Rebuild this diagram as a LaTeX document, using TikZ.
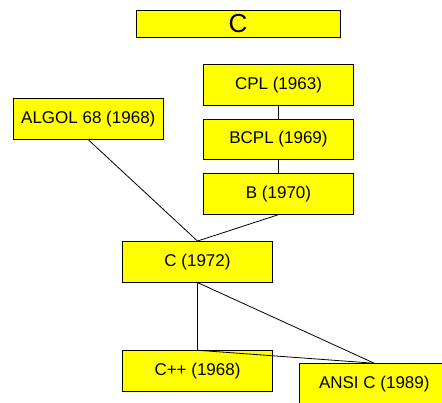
\documentclass[tikz,border=0pt]{standalone}
\usepackage{fontspec}
\setmainfont{Liberation Sans}
\usetikzlibrary{positioning}
\definecolor{ink}{HTML}{000000}
\definecolor{boxfill}{HTML}{FFFF00}
\tikzset{
  langbox/.style={draw=ink,fill=boxfill,line width=1pt,minimum width=150pt,minimum height=40.5pt,inner sep=0pt,align=center,font=\fontsize{17}{20}\selectfont},
  titlebox/.style={langbox,minimum width=204pt,minimum height=27.7pt,font=\fontsize{26}{28}\selectfont},
  link/.style={draw=ink,line width=0.8pt}
}
\begin{document}
\begin{tikzpicture}[x=1pt,y=-1pt]
  \clip (0,0) rectangle (442,403);

  \node[titlebox] (title) at (238,23.9) {C};

  \node[langbox] (cpl) at (278.5,84.9) {CPL (1963)};
  \node[langbox] (bcpl) at (278.5,139.3) {BCPL (1969)};
  \node[langbox] (b) at (278.5,193.9) {B (1970)};
  \node[langbox] (algol) at (88.3,119) {ALGOL 68 (1968)};
  \node[langbox] (c) at (197.5,261.8) {C (1972)};
  \node[langbox] (cpp) at (197.5,371) {C++ (1968)};
  \node[langbox] (ansi) at (374.3,384) {ANSI C (1989)};

  \draw[link] (cpl.south) -- (bcpl.north);
  \draw[link] (bcpl.south) -- (b.north);
  \draw[link] (algol.south) -- (c.north);
  \draw[link] (b.south) -- (c.north);
  \draw[link] (c.south) -- (cpp.north);
  \draw[link] (c.south) -- (ansi.north);
  \draw[link] (cpp.north) -- (ansi.north);
\end{tikzpicture}
\end{document}
